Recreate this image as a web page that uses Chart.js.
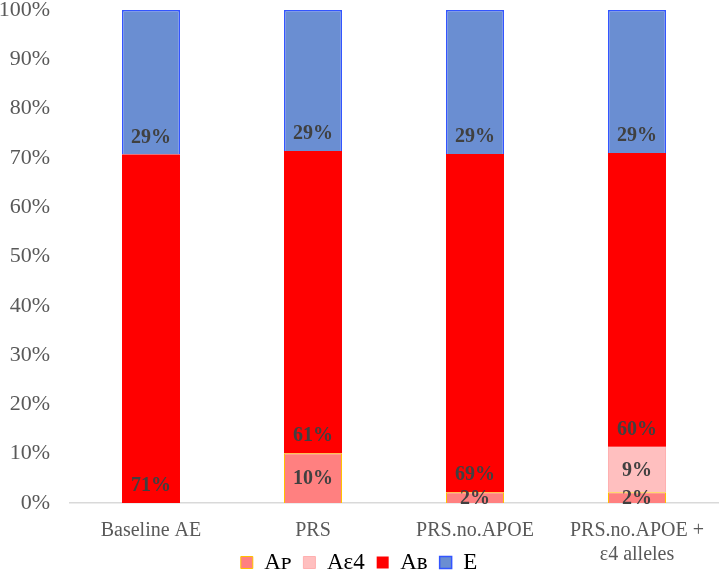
<!DOCTYPE html>
<html>
<head>
<meta charset="utf-8">
<script src="https://cdn.jsdelivr.net/npm/chart.js@4.4.1/dist/chart.umd.min.js"></script>
<style>
html,body{margin:0;padding:0;background:#fff;}
#wrap{width:720px;height:574px;position:relative;}
</style>
</head>
<body>
<div id="wrap"><canvas id="c" width="720" height="574"></canvas></div>
<script>
const categories = ["Baseline AE", "PRS", "PRS.no.APOE", ["PRS.no.APOE +", "ε4 alleles"]];
const seriesNames = ["Aᴘ", "Aε4", "Aʙ", "E"];
const valuesAP   = [0, 10.1, 2.2, 2.2];
const valuesAe4  = [0, 0, 0, 9.2];
const valuesAB   = [70.7, 61.3, 68.6, 59.6];
const valuesE    = [29.3, 28.6, 29.2, 29.0];
const yTicks = [0,10,20,30,40,50,60,70,80,90,100];

const SERIF = "'Liberation Serif', 'Times New Roman', 'DejaVu Serif', serif";

const labelPlugin = {
  id: 'segLabels',
  afterDatasetsDraw(chart) {
    const ctx = chart.ctx;
    ctx.save();
    ctx.font = "bold 20px " + SERIF;
    ctx.fillStyle = "#404040";
    ctx.textAlign = "center";
    ctx.textBaseline = "middle";
    chart.data.datasets.forEach((ds, di) => {
      const meta = chart.getDatasetMeta(di);
      meta.data.forEach((el, i) => {
        const v = ds.data[i];
        if (!v) return;
        const p = el.getProps(['x','y','base'], true);
        let y;
        if (ds.labelMode === 'center') y = (p.y + p.base) / 2 + 1;
        else y = p.base - 17;
        ctx.fillText(Math.round(v) + "%", p.x, y);
      });
    });
    ctx.restore();
  }
};

const legendFitPlugin = {
  id: 'legendFit',
  beforeInit(chart) {
    const orig = chart.legend.fit;
    chart.legend.fit = function() {
      orig.bind(chart.legend)();
      this.height = 35;
    };
  }
};

new Chart(document.getElementById('c'), {
  type: 'bar',
  data: {
    labels: categories,
    datasets: [
      { label: seriesNames[0], data: valuesAP, backgroundColor: '#FF8080', borderColor: '#FFC000', borderWidth: 1, labelMode: 'center' },
      { label: seriesNames[1], data: valuesAe4, backgroundColor: '#FFBFBF', borderColor: '#FFB0B0', borderWidth: 1, labelMode: 'center' },
      { label: seriesNames[2], data: valuesAB, backgroundColor: '#FF0000', borderColor: '#FF3030', borderWidth: 0, labelMode: 'base' },
      { label: seriesNames[3], data: valuesE, backgroundColor: '#6A8ED2', borderColor: '#3355FF', borderWidth: 1.5, labelMode: 'base' }
    ]
  },
  options: {
    responsive: false,
    animation: false,
    layout: { padding: { top: 10, right: 2, left: 0, bottom: 0 } },
    datasets: { bar: { barPercentage: 0.358, categoryPercentage: 1.0 } },
    scales: {
      x: {
        stacked: true,
        grid: { display: false },
        border: { display: true, color: '#D9D9D9', width: 1.5 },
        ticks: { color: '#595959', font: { family: SERIF, size: 20 }, padding: 8, maxRotation: 0, autoSkip: false },
        afterFit(scale) {
          scale.height = 36;
          scale.paddingTop = 0; scale.paddingBottom = 0;
          scale._computeLabelArea = function() { return undefined; };
        }
      },
      y: {
        stacked: true,
        min: 0, max: 100,
        afterBuildTicks(scale) { scale.ticks = yTicks.map(v => ({ value: v })); },
        grid: { display: false },
        border: { display: false },
        ticks: { color: '#595959', font: { family: SERIF, size: 22 }, padding: 12, callback: v => v + '%' },
        afterFit(scale) {
          scale.width = 70;
          scale.paddingTop = 0; scale.paddingBottom = 0;
        }
      }
    },
    plugins: {
      legend: {
        position: 'bottom',
        labels: { color: '#000', font: { family: SERIF, size: 23 }, boxWidth: 12, boxHeight: 12, padding: 12 }
      },
      tooltip: { enabled: false }
    }
  },
  plugins: [labelPlugin, legendFitPlugin]
});
</script>
</body>
</html>
